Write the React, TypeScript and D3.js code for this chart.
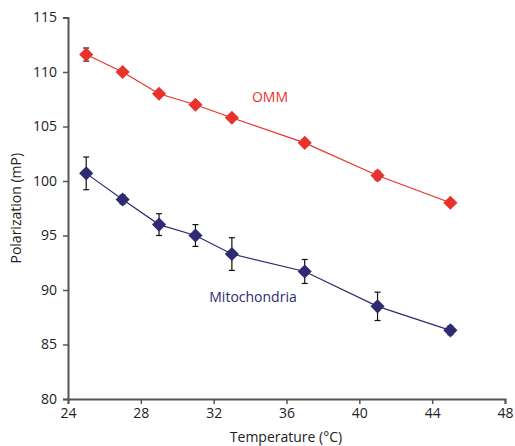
import { useEffect, useRef } from "react";
import * as d3 from "d3";

const temps = [25, 27, 29, 31, 33, 37, 41, 45];
const ommValues = [111.6, 110.0, 108.0, 107.0, 105.8, 103.5, 100.5, 98.0];
const ommErrors = [0.6, 0.2, 0.2, 0.2, 0.2, 0.3, 0.4, 0.2];
const mitoValues = [100.7, 98.3, 96.0, 95.0, 93.3, 91.7, 88.5, 86.3];
const mitoErrors = [1.5, 0.4, 1.0, 1.0, 1.5, 1.1, 1.3, 0.4];
const xTicks = [24, 28, 32, 36, 40, 44, 48];
const yTicks = [80, 85, 90, 95, 100, 105, 110, 115];

const W = 515;
const H = 446;
const FONT = "'Open Sans', 'Noto Sans', sans-serif";

export default function App() {
  const svgRef = useRef<SVGSVGElement>(null);

  useEffect(() => {
    const svg = d3.select(svgRef.current);
    svg.selectAll("*").remove();

    // plot area in page pixels
    const x = d3.scaleLinear().domain([24, 48]).range([68, 505]);
    const y = d3.scaleLinear().domain([80, 115]).range([399, 17.5]);

    const axisColor = "#555";

    const gx = svg
      .append("g")
      .attr("transform", `translate(0,${y(80)})`)
      .call(d3.axisBottom(x).tickValues(xTicks).tickSize(5).tickPadding(4));
    const gy = svg
      .append("g")
      .attr("transform", `translate(${x(24)},0)`)
      .call(d3.axisLeft(y).tickValues(yTicks).tickSize(5).tickPadding(6));

    [gx, gy].forEach((g) => {
      g.select(".domain").attr("stroke", axisColor).attr("stroke-width", 2);
      g.selectAll(".tick line").attr("stroke", axisColor).attr("stroke-width", 1.5);
      g.selectAll(".tick text")
        .attr("fill", "#222")
        .style("font-family", FONT)
        .style("font-size", "14px");
    });

    const series = [
      { vals: ommValues, errs: ommErrors, color: "#e8322c" },
      { vals: mitoValues, errs: mitoErrors, color: "#2f2a72" },
    ];

    const line = d3
      .line<number>()
      .x((_, i) => x(temps[i]))
      .y((d) => y(d));

    series.forEach((s) => {
      svg
        .append("path")
        .datum(s.vals)
        .attr("d", line)
        .attr("fill", "none")
        .attr("stroke", s.color)
        .attr("stroke-width", 1.2);

      const eb = svg.append("g").attr("stroke", "#111").attr("stroke-width", 1.2);
      s.vals.forEach((v, i) => {
        const cx = x(temps[i]);
        const top = y(v + s.errs[i]);
        const bot = y(v - s.errs[i]);
        eb.append("line").attr("x1", cx).attr("x2", cx).attr("y1", top).attr("y2", bot);
        eb.append("line").attr("x1", cx - 3).attr("x2", cx + 3).attr("y1", top).attr("y2", top);
        eb.append("line").attr("x1", cx - 3).attr("x2", cx + 3).attr("y1", bot).attr("y2", bot);
      });

      // square turned 45° gives the even diamond of the reference
      const sym = d3.symbol().type(d3.symbolSquare).size(100);
      svg
        .append("g")
        .selectAll("path")
        .data(s.vals)
        .join("path")
        .attr("d", sym)
        .attr("transform", (d, i) => `translate(${x(temps[i])},${y(d)}) rotate(45)`)
        .attr("fill", s.color);
    });

    const label = (txt: string, lx: number, ly: number, color: string) =>
      svg
        .append("text")
        .attr("x", lx)
        .attr("y", ly)
        .attr("text-anchor", "middle")
        .attr("fill", color)
        .style("font-family", FONT)
        .style("font-size", "14px")
        .text(txt);

    label("OMM", 270, 102, "#e8322c");
    label("Mitochondria", 253, 302, "#2f2a72");
    label("Temperature (°C)", 286, 442, "#222");

    svg
      .append("text")
      .attr("transform", `translate(21,${y(97.5)}) rotate(-90)`)
      .attr("text-anchor", "middle")
      .attr("fill", "#222")
      .style("font-family", FONT)
      .style("font-size", "14px")
      .text("Polarization (mP)");
  }, []);

  return (
    <svg
      ref={svgRef}
      width={W}
      height={H}
      style={{ position: "absolute", left: 0, top: 0, background: "#fff" }}
    />
  );
}
